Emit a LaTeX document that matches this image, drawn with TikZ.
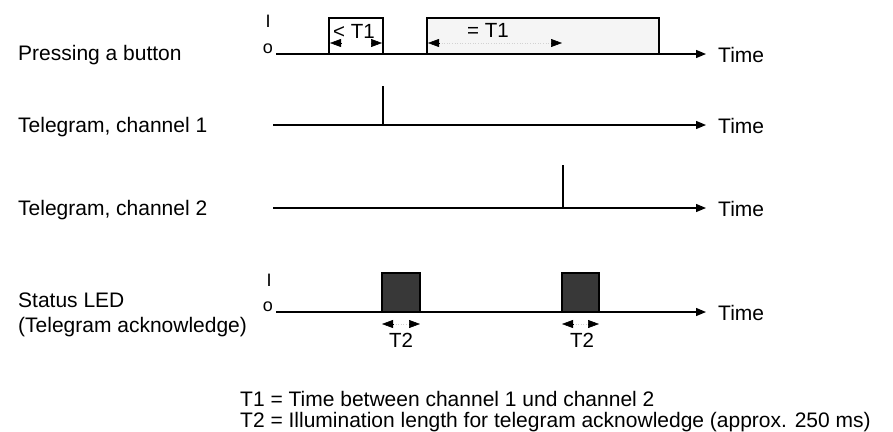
\documentclass[tikz,border=0pt]{standalone}
\usepackage{fontspec}
\setmainfont{Liberation Sans}
\usetikzlibrary{arrows.meta}
\begin{document}
\begin{tikzpicture}[x=1pt,y=-1pt,
  lbl/.style={anchor=base west,inner sep=0pt,font=\fontsize{21}{23}\selectfont},
  small/.style={inner sep=0pt,font=\fontsize{20.5}{23}\selectfont},
  lvl/.style={inner sep=0pt,font=\fontsize{18}{20}\selectfont},
  axis/.style={line width=1.3pt,-{Triangle[length=10pt,width=8pt]}},
  sig/.style={line width=1.2pt},
  dim/.style={-{Triangle[length=11pt,width=8pt]},line width=0.5pt},
  faint/.style={gray!35,dotted,line width=0.6pt}]
\useasboundingbox (0,0) rectangle (893,431);
% ---- row 1 : pressing a button
\coordinate (a1s) at (276,54); \coordinate (a1e) at (706,54);
\filldraw[sig,fill=white] (329,54) -- (329,18) -- (383,18) -- (383,54);
\filldraw[sig,fill=gray!8] (427,54) -- (427,18) -- (659,18) -- (659,54);
\draw[axis] (a1s) -- (a1e);
\node[lvl] (h1) at (268,21) {I};
\node[lvl] (l1) at (268,49) {o};
\node[small] (t1a) at (354,31) {< T1};
\node[small] (t1b) at (488,30) {= T1};
\coordinate (d1a) at (341,43); \coordinate (d1b) at (330,43);
\coordinate (d1c) at (371,43); \coordinate (d1d) at (382,43);
\draw[dim] (d1a) -- (d1b); \draw[dim] (d1c) -- (d1d);
\coordinate (d2a) at (439,43); \coordinate (d2b) at (428,43);
\coordinate (d2c) at (551,43); \coordinate (d2d) at (562,43);
\draw[faint] (d2a) -- (d2c);
\draw[dim] (d2a) -- (d2b); \draw[dim] (d2c) -- (d2d);
\node[lbl] (n1) at (18,60) {Pressing a button};
\node[lbl] (tm1) at (718,62) {Time};
% ---- row 2 : channel 1
\coordinate (a2s) at (273,125); \coordinate (a2e) at (706,125);
\draw[axis] (a2s) -- (a2e);
\coordinate (s1t) at (383,86); \coordinate (s1b) at (383,125);
\draw[sig] (s1t) -- (s1b);
\node[lbl] (n2) at (18,132) {Telegram, channel 1};
\node[lbl] (tm2) at (718,133) {Time};
% ---- row 3 : channel 2
\coordinate (a3s) at (273,208); \coordinate (a3e) at (706,208);
\draw[axis] (a3s) -- (a3e);
\coordinate (s2t) at (563,165); \coordinate (s2b) at (563,208);
\draw[sig] (s2t) -- (s2b);
\node[lbl] (n3) at (18,215) {Telegram, channel 2};
\node[lbl] (tm3) at (718,216) {Time};
% ---- row 4 : status LED
\coordinate (a4s) at (276,312); \coordinate (a4e) at (706,312);
\filldraw[sig,fill=black!78] (382,312) rectangle (420,273);
\filldraw[sig,fill=black!78] (562,312) rectangle (599,273);
\draw[axis] (a4s) -- (a4e);
\node[lvl] (h4) at (269,280) {I};
\node[lvl] (l4) at (268,307) {o};
\node[lbl] (n4a) at (18,307) {Status LED};
\node[lbl] (n4b) at (18,332) {(Telegram acknowledge)};
\node[lbl] (tm4) at (718,320) {Time};
\coordinate (e1a) at (393,324); \coordinate (e1b) at (382,324);
\coordinate (e1c) at (409,324); \coordinate (e1d) at (420,324);
\draw[faint] (e1a) -- (e1c);
\draw[dim] (e1a) -- (e1b); \draw[dim] (e1c) -- (e1d);
\node[small] (tt1) at (401,340) {T2};
\coordinate (e2a) at (573,324); \coordinate (e2b) at (562,324);
\coordinate (e2c) at (588,324); \coordinate (e2d) at (599,324);
\draw[faint] (e2a) -- (e2c);
\draw[dim] (e2a) -- (e2b); \draw[dim] (e2c) -- (e2d);
\node[small] (tt2) at (582,340) {T2};
% ---- legend
\node[lbl] (lg1) at (240,406) {T1 = Time between channel 1 und channel 2};
\node[lbl] (lg2) at (240,427) {T2 = Illumination length for telegram acknowledge (approx. 250 ms)};
\end{tikzpicture}
\end{document}
